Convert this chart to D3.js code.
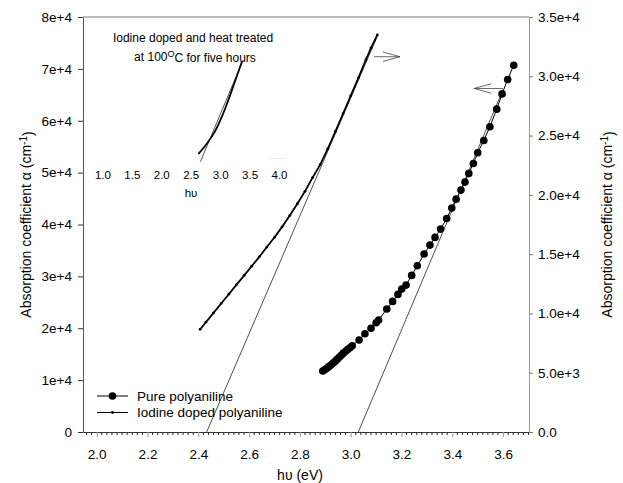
<!DOCTYPE html>
<html>
<head>
<meta charset="utf-8">
<script src="https://cdn.jsdelivr.net/npm/d3@7"></script>
<style>
body { margin: 0; background: #fff; }
text { font-family: Arial, "Liberation Sans", sans-serif; fill: #000; }
</style>
</head>
<body>
<div id="chart"></div>
<script>
// pure polyaniline (left axis)
const pureX = [2.890, 2.898, 2.906, 2.914, 2.922, 2.930, 2.938, 2.946, 2.955, 2.963, 2.971, 2.980, 2.988, 2.997, 3.006,
    3.033, 3.056, 3.080, 3.100, 3.110, 3.142, 3.165, 3.186, 3.201, 3.218, 3.240, 3.262, 3.289, 3.312, 3.332,
    3.354, 3.378, 3.398, 3.415, 3.434, 3.450, 3.465, 3.483, 3.500, 3.524, 3.548, 3.575, 3.596, 3.618, 3.642];
const pureY = [11750, 12000, 12300, 12600, 12900, 13250, 13600, 14000, 14400, 14800, 15200, 15550, 15900, 16250, 16630,
    17730, 18940, 19980, 21060, 21580, 23700, 25180, 26530, 27550, 28320, 30190, 32040, 34300, 36030, 37510,
    39110, 41170, 43160, 44890, 46630, 48170, 49850, 51770, 53820, 56200, 58830, 62240, 65180, 67960, 70710];

// iodine doped polyaniline (right axis)
const iodX = [2.407, 2.43, 2.46, 2.49, 2.52, 2.55, 2.58, 2.61, 2.64, 2.67, 2.70, 2.73, 2.76, 2.79, 2.82,
    2.85, 2.88, 2.91, 2.94, 2.97, 3.00, 3.03, 3.06, 3.08, 3.105];
const iodY = [8660, 9260, 10050, 10840, 11620, 12410, 13190, 13980, 14770, 15600, 16420, 17300, 18250, 19250, 20300,
    21450, 22550, 23900, 25350, 26850, 28350, 29850, 31400, 32400, 33480];

// linear fits (thin lines)
const pureFitX = [3.03, 3.60];
const pureFitY = [0, 66000];
const iodFitX = [2.433, 3.10];
const iodFitY = [0, 33140];

// inset curve
const insetX = [2.63, 2.77, 2.91, 3.03, 3.14, 3.25, 3.37];
const insetY = [2.4, 3.07, 3.89, 4.89, 6.0, 7.22, 8.55];
const insetFitX = [2.665, 3.39];
const insetFitY = [1.89, 8.67];
const insetTicks = [1.0, 1.5, 2.0, 2.5, 3.0, 3.5, 4.0];

const xTicks = [2.0, 2.2, 2.4, 2.6, 2.8, 3.0, 3.2, 3.4, 3.6];
const leftTicks = [0, 10000, 20000, 30000, 40000, 50000, 60000, 70000, 80000];
const leftTickLabels = ["0", "1e+4", "2e+4", "3e+4", "4e+4", "5e+4", "6e+4", "7e+4", "8e+4"];
const rightTicks = [0, 5000, 10000, 15000, 20000, 25000, 30000, 35000];
const rightTickLabels = ["0.0", "5.0e+3", "1.0e+4", "1.5e+4", "2.0e+4", "2.5e+4", "3.0e+4", "3.5e+4"];

// arrows pointing to the axis each curve belongs to
const arrowRight = { x0: 3.092, x1: 3.194, y: 31650 };   // right axis units
const arrowLeft = { x0: 3.600, x1: 3.486, y: 66220 };    // left axis units

const width = 623, height = 483;
const L = 83, R = 529, T = 17, B = 432;

const svg = d3.select("#chart").append("svg")
    .attr("width", width)
    .attr("height", height);

const x = d3.scaleLinear().domain([1.946, 3.702]).range([L, R]);
const yL = d3.scaleLinear().domain([0, 80000]).range([B, T]);
const yR = d3.scaleLinear().domain([0, 35000]).range([B, T]);

// frame top line
svg.append("line").attr("x1", L).attr("x2", R).attr("y1", T).attr("y2", T)
    .attr("stroke", "#777").attr("stroke-width", 1);

// bottom axis: minor ticks first
const minor = d3.range(1.96, 3.701, 0.02).filter(v => !xTicks.some(t => Math.abs(t - v) < 1e-6));
svg.append("g").attr("transform", `translate(0,${B})`)
    .selectAll("line").data(minor).enter().append("line")
    .attr("x1", d => x(d)).attr("x2", d => x(d))
    .attr("y1", 0).attr("y2", 3)
    .attr("stroke", "#222");

const xAxis = svg.append("g")
    .attr("transform", `translate(0,${B})`)
    .call(d3.axisBottom(x).tickValues(xTicks).tickFormat(d3.format(".1f")).tickSize(5).tickPadding(12).tickSizeOuter(0));
xAxis.select(".domain").attr("stroke", "#333");
xAxis.selectAll(".tick line").attr("stroke", "#999");
xAxis.selectAll("text").attr("font-size", "13.5px").attr("font-family", "Arial, 'Liberation Sans', sans-serif");

const leftAxis = svg.append("g")
    .attr("transform", `translate(${L},0)`)
    .call(d3.axisLeft(yL).tickValues(leftTicks).tickFormat((d, i) => leftTickLabels[i]).tickSize(5).tickPadding(6).tickSizeOuter(0));
leftAxis.select(".domain").attr("stroke", "#555");
leftAxis.selectAll(".tick line").attr("stroke", "#333");
leftAxis.selectAll("text").attr("font-size", "13.5px").attr("font-family", "Arial, 'Liberation Sans', sans-serif");

const rightAxis = svg.append("g")
    .attr("transform", `translate(${R},0)`)
    .call(d3.axisRight(yR).tickValues(rightTicks).tickFormat((d, i) => rightTickLabels[i]).tickSize(4).tickPadding(5).tickSizeOuter(0));
rightAxis.select(".domain").attr("stroke", "#999");
rightAxis.selectAll(".tick line").attr("stroke", "#777");
rightAxis.selectAll("text").attr("font-size", "13.5px").attr("font-family", "Arial, 'Liberation Sans', sans-serif");

// axis titles
function yTitle(tx) {
    const t = svg.append("text")
        .attr("transform", `translate(${tx},${(T + B) / 2}) rotate(-90)`)
        .attr("text-anchor", "middle")
        .attr("font-size", "14px");
    t.append("tspan").text("Absorption coefficient α (cm");
    t.append("tspan").attr("dy", "-0.45em").attr("font-size", "10px").text("-1");
    t.append("tspan").attr("dy", "0.45em").text(")");
}
yTitle(31);
yTitle(612);

svg.append("text")
    .attr("x", (L + R) / 2 - 6).attr("y", 480)
    .attr("text-anchor", "middle")
    .attr("font-size", "14px")
    .text("hυ (eV)");

// fit lines
const fitLine = (xs, ys, ys2) => d3.line().x((d, i) => x(xs[i])).y((d, i) => ys2(ys[i]))(xs);
svg.append("path").attr("d", fitLine(pureFitX, pureFitY, yL))
    .attr("fill", "none").attr("stroke", "#222").attr("stroke-width", 0.8);
svg.append("path").attr("d", fitLine(iodFitX, iodFitY, yR))
    .attr("fill", "none").attr("stroke", "#222").attr("stroke-width", 0.8);

// iodine doped curve
const iodData = iodX.map((v, i) => [v, iodY[i]]);
svg.append("path")
    .attr("d", d3.line().x(d => x(d[0])).y(d => yR(d[1]))(iodData))
    .attr("fill", "none").attr("stroke", "#000").attr("stroke-width", 1.8);
svg.append("g").selectAll("circle").data(iodData).enter().append("circle")
    .attr("cx", d => x(d[0])).attr("cy", d => yR(d[1])).attr("r", 1.4).attr("fill", "#000");

// pure curve
const pureData = pureX.map((v, i) => [v, pureY[i]]);
svg.append("path")
    .attr("d", d3.line().x(d => x(d[0])).y(d => yL(d[1]))(pureData))
    .attr("fill", "none").attr("stroke", "#000").attr("stroke-width", 1);
svg.append("g").selectAll("circle").data(pureData).enter().append("circle")
    .attr("cx", d => x(d[0])).attr("cy", d => yL(d[1])).attr("r", 3.8).attr("fill", "#000");

// arrows
function arrow(a, ys) {
    const x0 = x(a.x0), x1 = x(a.x1), y = ys(a.y);
    const dir = x1 > x0 ? 1 : -1;
    const g = svg.append("g").attr("stroke", "#444").attr("stroke-width", 0.8).attr("fill", "none");
    g.append("line").attr("x1", x0).attr("x2", x1).attr("y1", y).attr("y2", y);
    g.append("polyline").attr("points", `${x1 - dir * 17},${y - 4.7} ${x1},${y} ${x1 - dir * 17},${y + 4.7}`);
}
arrow(arrowRight, yR);
arrow(arrowLeft, yL);

// inset
const ix = d3.scaleLinear().domain([1.0, 4.0]).range([102.4, 279]);
const iy = d3.scaleLinear().domain([0, 10]).range([190, 40]);
const insetAxis = svg.append("g")
    .attr("transform", "translate(0,171)")
    .call(d3.axisBottom(ix).tickValues(insetTicks).tickFormat(d3.format(".1f")).tickSize(0).tickPadding(0));
insetAxis.select(".domain").remove();
insetAxis.selectAll("text").attr("font-size", "11.5px").attr("font-family", "Arial, 'Liberation Sans', sans-serif");
svg.append("text").attr("x", 191).attr("y", 197).attr("text-anchor", "middle")
    .attr("font-size", "11.5px").text("hυ");
svg.append("text").attr("x", 277).attr("y", 161).attr("text-anchor", "middle")
    .attr("font-size", "8px").attr("fill", "#999").style("fill", "#999").text("· · ·");

svg.append("path")
    .attr("d", d3.line().x((d, i) => ix(insetX[i])).y((d, i) => iy(insetY[i])).curve(d3.curveMonotoneX)(insetX))
    .attr("fill", "none").attr("stroke", "#000").attr("stroke-width", 1.8);
svg.append("path")
    .attr("d", d3.line().x((d, i) => ix(insetFitX[i])).y((d, i) => iy(insetFitY[i]))(insetFitX))
    .attr("fill", "none").attr("stroke", "#222").attr("stroke-width", 0.8);

svg.append("text").attr("x", 193).attr("y", 42).attr("text-anchor", "middle")
    .attr("font-size", "12px").text("Iodine doped and heat treated");
const t2 = svg.append("text").attr("x", 195).attr("y", 61).attr("text-anchor", "middle")
    .attr("font-size", "12px");
t2.append("tspan").text("at 100");
t2.append("tspan").attr("dy", "-0.45em").attr("font-size", "9px").text("O");
t2.append("tspan").attr("dy", "0.45em").text("C for five hours");

// legend
const lg = svg.append("g");
lg.append("line").attr("x1", 97).attr("x2", 128).attr("y1", 396).attr("y2", 396).attr("stroke", "#000");
lg.append("circle").attr("cx", 112.5).attr("cy", 396).attr("r", 3.8).attr("fill", "#000");
lg.append("text").attr("x", 137).attr("y", 400.5).attr("font-size", "13.5px").text("Pure polyaniline");
lg.append("line").attr("x1", 97).attr("x2", 128).attr("y1", 412.5).attr("y2", 412.5).attr("stroke", "#000");
lg.append("circle").attr("cx", 112.5).attr("cy", 412.5).attr("r", 1.4).attr("fill", "#000");
lg.append("text").attr("x", 137).attr("y", 417).attr("font-size", "13.5px").text("Iodine doped polyaniline");
</script>
</body>
</html>
